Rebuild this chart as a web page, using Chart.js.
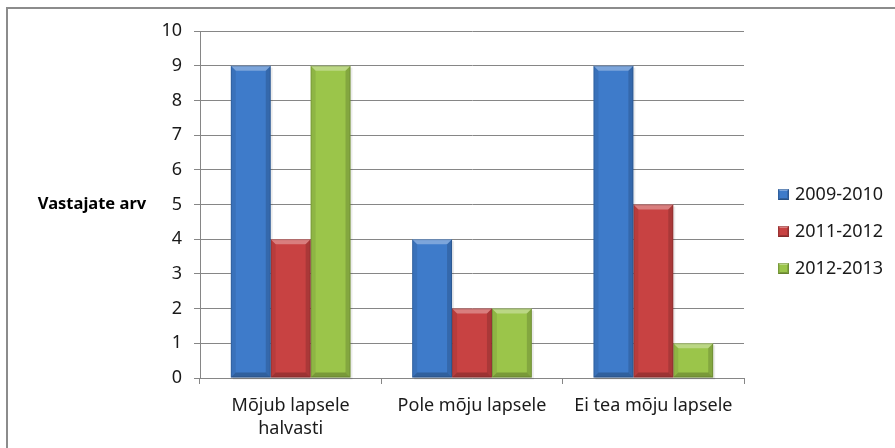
<!DOCTYPE html>
<html>
<head>
<meta charset="utf-8">
<script src="https://cdn.jsdelivr.net/npm/chart.js@4"></script>
<style>
    html, body { margin: 0; padding: 0; background: #ffffff; }
    #wrap { width: 895px; height: 448px; }
</style>
</head>
<body>
<div id="wrap"><canvas id="surveyChart" width="895" height="448"></canvas></div>
<script>
// Survey answers per period
const categories = [['Mõjub lapsele', 'halvasti'], 'Pole mõju lapsele', 'Ei tea mõju lapsele'];
const seriesNames = ['2009-2010', '2011-2012', '2012-2013'];
const values2009 = [9, 4, 9];
const values2011 = [4, 2, 5];
const values2012 = [9, 2, 1];
const yTicks = [0, 1, 2, 3, 4, 5, 6, 7, 8, 9, 10];
const yTitle = 'Vastajate arv';

// Bar colours (body colour used for fill and legend)
const seriesColors = ['#3e7bca', '#c84242', '#9bc54a'];

const FONT = "'Noto Sans', 'Open Sans', sans-serif";
const GRID = '#868686';

// Bevelled Excel-like look on every bar and a faint drop shadow
const bevelPlugin = {
    id: 'bevel',
    beforeDatasetsDraw(chart) {
        const ctx = chart.ctx;
        ctx.save();
        chart.data.datasets.forEach((ds, i) => {
            chart.getDatasetMeta(i).data.forEach(bar => {
                const l = bar.x - bar.width / 2, r = bar.x + bar.width / 2;
                ctx.fillStyle = 'rgba(0,0,0,0.08)';
                ctx.fillRect(l + 2, bar.y + 2, r - l, bar.base - bar.y);
            });
        });
        ctx.restore();
    },
    afterDatasetsDraw(chart) {
        const ctx = chart.ctx;
        ctx.save();
        chart.data.datasets.forEach((ds, i) => {
            chart.getDatasetMeta(i).data.forEach(bar => {
                drawBevel(ctx, bar.x - bar.width / 2, bar.y, bar.x + bar.width / 2, bar.base, 5);
            });
        });
        ctx.restore();
    }
};

function drawBevel(ctx, l, t, r, b, s) {
    const poly = (pts, color) => {
        ctx.beginPath();
        ctx.moveTo(pts[0][0], pts[0][1]);
        for (let k = 1; k < pts.length; k++) ctx.lineTo(pts[k][0], pts[k][1]);
        ctx.closePath();
        ctx.fillStyle = color;
        ctx.fill();
    };
    // top highlight
    poly([[l, t], [r, t], [r - s, t + s], [l + s, t + s]], 'rgba(255,255,255,0.32)');
    // left edge
    poly([[l, t], [l + s, t + s], [l + s, b - s], [l, b]], 'rgba(0,0,0,0.08)');
    // right edge
    poly([[r, t], [r, b], [r - s, b - s], [r - s, t + s]], 'rgba(0,0,0,0.15)');
    // bottom edge
    poly([[l, b], [l + s, b - s], [r - s, b - s], [r, b]], 'rgba(0,0,0,0.22)');
    // thin outline
    ctx.strokeStyle = 'rgba(0,0,0,0.15)';
    ctx.lineWidth = 1;
    ctx.strokeRect(l + 0.5, t + 0.5, r - l - 1, b - t - 1);
}

// Outer frame, horizontal axis title and legend on the right
const decorPlugin = {
    id: 'decor',
    beforeDraw(chart) {
        const ctx = chart.ctx;
        ctx.save();
        ctx.strokeStyle = '#8c8c8c';
        ctx.lineWidth = 2;
        ctx.beginPath();
        ctx.moveTo(7, chart.height + 2);
        ctx.lineTo(7, 8);
        ctx.lineTo(chart.width + 2, 8);
        ctx.stroke();
        ctx.restore();
    },
    afterDraw(chart) {
        const ctx = chart.ctx;
        const area = chart.chartArea;
        ctx.save();
        ctx.fillStyle = '#000000';
        ctx.font = 'bold 16.5px ' + FONT;
        ctx.textAlign = 'center';
        ctx.textBaseline = 'middle';
        ctx.fillText(yTitle, 92, (area.top + area.bottom) / 2);

        ctx.font = '18px ' + FONT;
        ctx.textAlign = 'left';
        chart.data.datasets.forEach((ds, i) => {
            const cy = 194 + i * 37;
            ctx.fillStyle = ds.backgroundColor;
            ctx.fillRect(778, cy - 5, 11, 11);
            drawBevel(ctx, 778, cy - 5, 789, cy + 6, 2);
            ctx.fillStyle = '#1a1a1a';
            ctx.fillText(ds.label, 795, cy + 1);
        });
        ctx.restore();
    }
};

const ctx = document.getElementById('surveyChart').getContext('2d');
new Chart(ctx, {
    type: 'bar',
    data: {
        labels: categories,
        datasets: [
            { label: seriesNames[0], data: values2009, backgroundColor: seriesColors[0] },
            { label: seriesNames[1], data: values2011, backgroundColor: seriesColors[1] },
            { label: seriesNames[2], data: values2012, backgroundColor: seriesColors[2] }
        ]
    },
    options: {
        responsive: false,
        animation: false,
        layout: { padding: { left: 0, top: 31, right: 151, bottom: 0 } },
        datasets: {
            bar: { barPercentage: 1, categoryPercentage: 0.66, borderWidth: 0 }
        },
        plugins: {
            legend: { display: false },
            tooltip: { enabled: false }
        },
        scales: {
            x: {
                grid: {
                    offset: true,
                    drawOnChartArea: false,
                    color: GRID,
                    tickLength: 6
                },
                border: { color: GRID, width: 1 },
                ticks: {
                    color: '#1a1a1a',
                    padding: 10,
                    maxRotation: 0,
                    font: { family: FONT, size: 18, lineHeight: 1.28 }
                },
                afterFit(scale) { scale.height = 70; }
            },
            y: {
                min: 0,
                max: 10,
                afterBuildTicks(scale) { scale.ticks = yTicks.map(v => ({ value: v })); },
                grid: { color: GRID, tickLength: 6 },
                border: { color: GRID, width: 1 },
                ticks: {
                    color: '#1a1a1a',
                    padding: 12,
                    font: { family: FONT, size: 18 }
                },
                afterFit(scale) { scale.width = 200; }
            }
        }
    },
    plugins: [bevelPlugin, decorPlugin]
});
</script>
</body>
</html>
